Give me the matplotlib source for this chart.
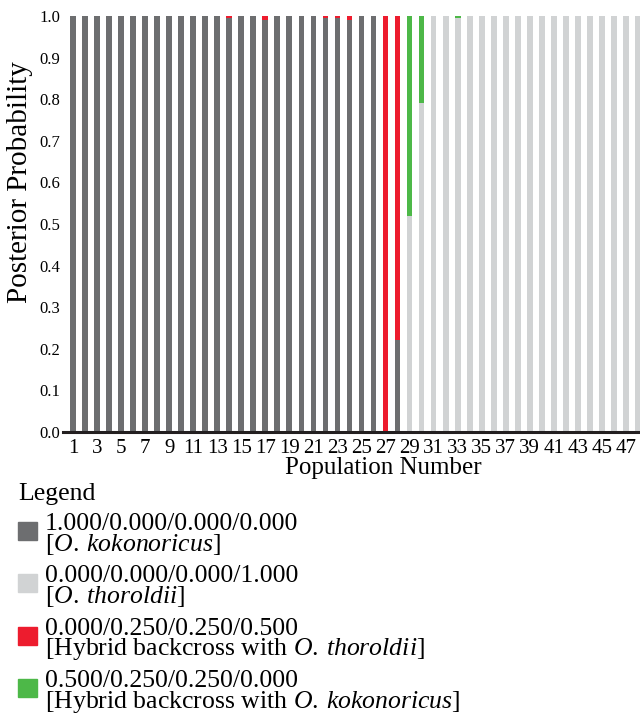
import matplotlib
matplotlib.use('Agg')
import matplotlib.pyplot as plt
from matplotlib.patches import Rectangle
import numpy as np

plt.rcParams.update({'font.family': 'Liberation Serif',
                     'mathtext.fontset': 'custom',
                     'mathtext.rm': 'Liberation Serif',
                     'mathtext.it': 'Liberation Serif:italic'})

# posterior probabilities per population (1..48), stacked bottom -> top
populations = np.arange(1, 49)
kokonoricus = [1.0]*13 + [0.995, 1.0, 1.0, 0.99, 1.0, 1.0, 1.0, 1.0, 0.995, 0.995, 0.99, 1.0, 1.0] \
    + [0.0, 0.22] + [0.0]*20
thoroldii = [0.0]*28 + [0.52, 0.79, 1.0, 1.0, 0.995] + [1.0]*15
bc_thoroldii = [0.0]*13 + [0.005, 0, 0, 0.01, 0, 0, 0, 0, 0.005, 0.005, 0.01, 0, 0] \
    + [1.0, 0.78] + [0.0]*20
bc_kokonoricus = [0.0]*28 + [0.48, 0.21, 0, 0, 0.005] + [0.0]*15

series = [kokonoricus, thoroldii, bc_thoroldii, bc_kokonoricus]
colors = ['#6d6e70', '#d1d3d4', '#ed1c2e', '#4db848']
legend_codes = ['1.000/0.000/0.000/0.000', '0.000/0.000/0.000/1.000',
                '0.000/0.250/0.250/0.500', '0.500/0.250/0.250/0.000']
legend_names = [r'[$\mathit{O.\:kokonoricus}$]', r'[$\mathit{O.\:thoroldii}$]',
                r'[Hybrid backcross with $\mathit{O.\:thoroldii}$]',
                r'[Hybrid backcross with $\mathit{O.\:kokonoricus}$]']

W, H = 640, 714
fig = plt.figure(figsize=(W/100, H/100), dpi=100)
ax = fig.add_axes([63/W, (H-432)/H, (W-63)/W, 416/H])

bottom = np.zeros(len(populations))
for vals, col in zip(series, colors):
    vals = np.array(vals)
    ax.bar(populations, vals, 0.48, bottom=bottom, color=col, linewidth=0)
    bottom += vals

ax.set_xlim(0.168, 48.17)
ax.set_ylim(0, 1.0)
ax.set_yticks(np.arange(0, 1.01, 0.1))
ax.set_yticklabels([f'{v:.1f}' for v in np.arange(0, 1.01, 0.1)], fontsize=12)
ax.set_xticks(populations[::2])
ax.set_xticklabels([str(p) for p in populations[::2]], fontsize=15)
ax.tick_params(axis='y', length=0, pad=2)
ax.tick_params(axis='x', length=0, pad=5)
for s in ['top', 'right', 'left']:
    ax.spines[s].set_visible(False)
ax.spines['bottom'].set_linewidth(2.2)
ax.spines['bottom'].set_color('#231f20')

ax.set_xlabel('Population Number', fontsize=18)
ax.xaxis.set_label_coords(0.555, -0.06)
ax.set_ylabel('Posterior Probability', fontsize=21)
ax.yaxis.set_label_coords(-0.052, 0.60)

# legend, laid out by hand in pixel positions
fs = 18.5
fig.text(18/W, 1 - 500/H, 'Legend', fontsize=fs, va='baseline')
pitch = 52.3
for i, (code, name, col) in enumerate(zip(legend_codes, legend_names, colors)):
    y0 = i*pitch
    fig.patches.append(Rectangle((18/W, 1 - (540+y0)/H), 19/W, 18/H,
                                 transform=fig.transFigure, color=col))
    fig.text(45/W, 1 - (513+y0)/H, code + '\n' + name, fontsize=fs, va='top',
             linespacing=0.83)

plt.savefig('out.png', dpi=100)
